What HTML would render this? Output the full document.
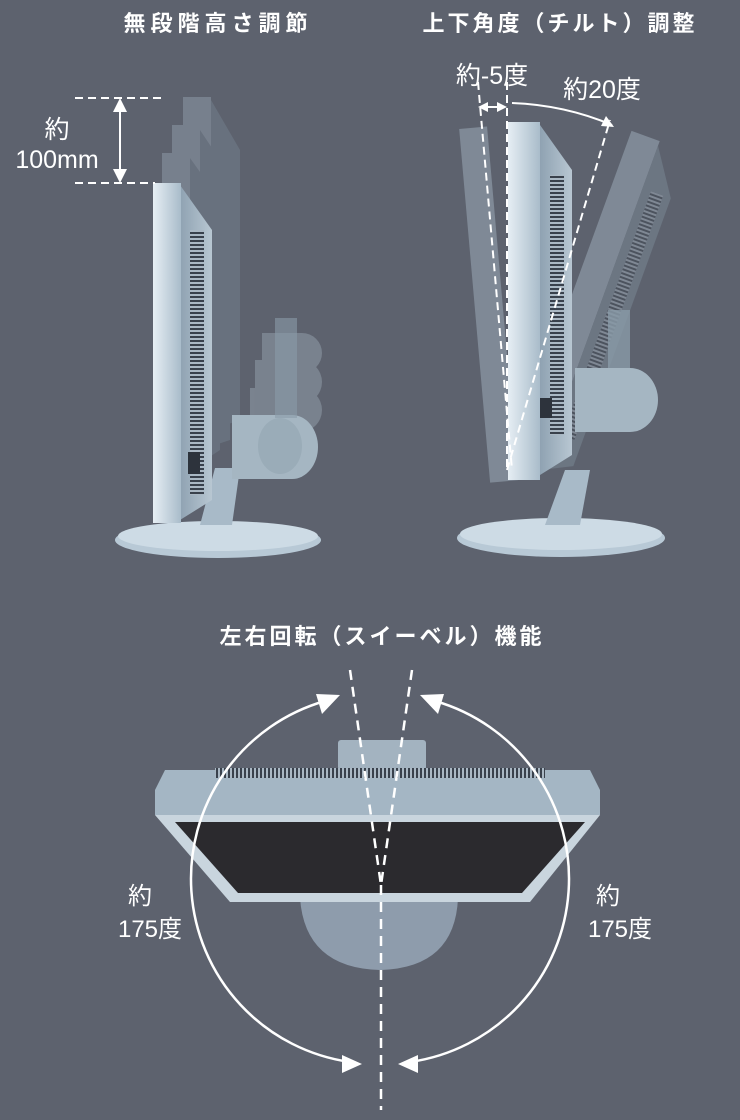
<!DOCTYPE html>
<html><head><meta charset="utf-8"><style>
html,body{margin:0;padding:0;background:#5d626e;}
svg{display:block}
text{font-family:"Liberation Sans","Noto Sans CJK JP",sans-serif;fill:#fff}
</style></head><body>
<svg width="740" height="1120" viewBox="0 0 740 1120">
<defs>
<linearGradient id="pan" x1="0" x2="1"><stop offset="0" stop-color="#e6eef4"/><stop offset="1" stop-color="#a9bcca"/></linearGradient>
<linearGradient id="bk" x1="0" x2="1"><stop offset="0" stop-color="#8fa2b2"/><stop offset="1" stop-color="#b8c7d2"/></linearGradient>
<pattern id="vent" width="3" height="4" patternUnits="userSpaceOnUse"><rect width="3" height="4" fill="#aab8c4"/><rect width="3" height="2" fill="#39414c"/></pattern>
<pattern id="venth" width="4" height="3" patternUnits="userSpaceOnUse"><rect width="4" height="3" fill="#aab8c4"/><rect width="2" height="3" fill="#39414c"/></pattern>
</defs>
<text x="218" y="31" font-size="22" font-weight="bold" text-anchor="middle" letter-spacing="5">無段階高さ調節</text>
<text x="560" y="31" font-size="22" font-weight="bold" text-anchor="middle" letter-spacing="3">上下角度（チルト）調整</text>
<text x="382" y="644" font-size="22" font-weight="bold" text-anchor="middle" letter-spacing="3">左右回転（スイーベル）機能</text>

<!-- LEFT: height -->
<g opacity="0.35">
<rect x="183" y="97" width="28" height="330" fill="#a9bac7"/><polygon points="211,100 240,150 240,420 211,430" fill="#7f8f9c"/>
<rect x="172" y="125" width="28" height="330" fill="#a9bac7"/><polygon points="200,130 230,175 230,440 200,450" fill="#7f8f9c"/>
<rect x="162" y="153" width="28" height="330" fill="#a9bac7"/><polygon points="190,158 220,200 220,450 190,470" fill="#7f8f9c"/>
<path d="M262,333 h40 a20,20 0 0 1 0,40 h-40z M255,360 h45 a22,22 0 0 1 0,44 h-45z M250,388 h50 a22,22 0 0 1 0,44 h-50z" fill="#b0c0cc"/>
</g>
<ellipse cx="218" cy="540" rx="103" ry="18" fill="#b8c9d6"/>
<ellipse cx="218" cy="536" rx="100" ry="15" fill="#cddbe5"/>
<polygon points="215,468 240,468 232,525 200,525" fill="#a8bac8"/>
<path d="M232,415 h60 a26,32 0 0 1 0,64 h-60z" fill="#a5b6c2"/>
<ellipse cx="280" cy="446" rx="22" ry="28" fill="#9aacb8"/>
<rect x="275" y="318" width="22" height="100" fill="#8a9ba8" opacity="0.6"/>
<polygon points="180,185 212,230 212,500 180,520" fill="url(#bk)"/>
<rect x="190" y="230" width="14" height="265" fill="url(#vent)"/>
<rect x="188" y="452" width="12" height="22" fill="#2d333c"/>
<rect x="153" y="183" width="28" height="340" fill="url(#pan)"/>
<g stroke="#fff" stroke-width="2" stroke-dasharray="8,5"><line x1="75" y1="98" x2="166" y2="98"/><line x1="75" y1="183" x2="155" y2="183"/></g>
<line x1="120" y1="104" x2="120" y2="177" stroke="#fff" stroke-width="2"/>
<polygon points="120,98 113,112 127,112" fill="#fff"/><polygon points="120,183 113,169 127,169" fill="#fff"/>
<text x="57" y="138" font-size="25" text-anchor="middle">約</text>
<text x="57" y="168" font-size="25" text-anchor="middle">100mm</text>

<!-- RIGHT: tilt -->
<ellipse cx="561" cy="538" rx="104" ry="19" fill="#b8c9d6"/>
<ellipse cx="561" cy="534" rx="101" ry="16" fill="#cddbe5"/>
<polygon points="565,470 590,470 580,525 545,525" fill="#a8bac8"/>
<g opacity="0.45" transform="rotate(20 540 470)"><rect x="510" y="120" width="30" height="360" fill="#a9bac7"/><polygon points="540,125 570,170 570,455 540,470" fill="#7f8f9c"/><rect x="549" y="170" width="13" height="260" fill="url(#vent)"/></g>
<g opacity="0.45" transform="rotate(-5 520 480)"><rect x="490" y="125" width="28" height="355" fill="#a9bac7"/></g>
<rect x="608" y="310" width="22" height="120" fill="#8a9ba8" opacity="0.8"/>
<path d="M575,368 h55 a28,32 0 0 1 0,64 h-55z" fill="#a5b6c2"/>
<polygon points="540,125 572,170 572,455 540,475" fill="url(#bk)"/>
<rect x="550" y="175" width="14" height="260" fill="url(#vent)"/>
<rect x="540" y="398" width="12" height="20" fill="#2d333c"/>
<rect x="508" y="122" width="32" height="358" fill="url(#pan)"/>
<g stroke="#fff" stroke-width="2" stroke-dasharray="8,5"><line x1="507" y1="82" x2="507" y2="470"/><line x1="478" y1="82" x2="512" y2="470" /><line x1="507" y1="470" x2="610" y2="120"/></g>
<line x1="483" y1="107" x2="500" y2="107" stroke="#fff" stroke-width="2"/>
<polygon points="507,107 497,102 497,112" fill="#fff"/><polygon points="478,107 488,102 488,112" fill="#fff"/>
<path d="M512,103 Q565,105 612,125" stroke="#fff" stroke-width="2" fill="none"/>
<polygon points="614,127 601,126 606,116" fill="#fff"/>
<text x="492" y="84" font-size="25" text-anchor="middle">約-5度</text>
<text x="602" y="98" font-size="25" text-anchor="middle">約20度</text>

<!-- BOTTOM: swivel -->
<path d="M300,898 L458,898 Q455,968 380,970 Q305,968 300,898z" fill="#8e9cac"/>
<rect x="338" y="740" width="88" height="30" rx="3" fill="#a3b3c0"/>
<polygon points="165,770 590,770 600,790 600,815 155,815 155,790" fill="#a4b6c4"/>
<rect x="215" y="768" width="330" height="10" fill="url(#venth)"/>
<polygon points="155,815 600,815 530,902 230,902" fill="#c9d5de"/>
<polygon points="175,822 585,822 522,893 238,893" fill="#2b2a2e"/>
<g stroke="#fff" stroke-width="2.5" fill="none">
<path d="M325,701 A185,185 0 0 0 350,1062"/>
<path d="M435,701 A185,185 0 0 1 410,1062"/>
</g>
<polygon points="340,695 316,694 322,714" fill="#fff"/>
<polygon points="420,695 444,694 438,714" fill="#fff"/>
<polygon points="362,1064 342,1055 342,1073" fill="#fff"/>
<polygon points="398,1064 418,1055 418,1073" fill="#fff"/>
<g stroke="#fff" stroke-width="2.5" stroke-dasharray="10,7"><line x1="350" y1="670" x2="381" y2="885"/><line x1="412" y1="670" x2="381" y2="885"/><line x1="381" y1="885" x2="381" y2="1110"/></g>
<text x="140" y="904" font-size="24" text-anchor="middle">約</text>
<text x="150" y="937" font-size="24" text-anchor="middle">175度</text>
<text x="608" y="904" font-size="24" text-anchor="middle">約</text>
<text x="620" y="937" font-size="24" text-anchor="middle">175度</text>
</svg>
</body></html>
